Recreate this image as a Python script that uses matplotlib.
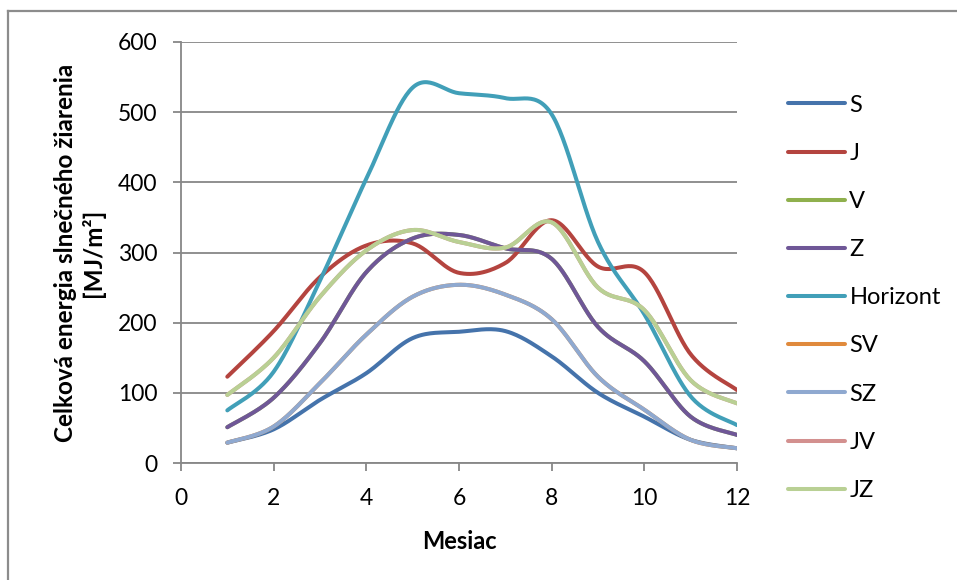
import numpy as np
import matplotlib
matplotlib.use("Agg")
import matplotlib.pyplot as plt
from matplotlib.lines import Line2D

plt.rcParams['font.family'] = ['Lato', 'DejaVu Sans']

# mesačné hodnoty [MJ/m2] pre jednotlivé orientácie plochy
mesiace = [1, 2, 3, 4, 5, 6, 7, 8, 9, 10, 11, 12]
S = [29, 48, 90, 128, 178, 187, 188, 152, 100, 66, 33, 21]
J = [123, 188, 265, 310, 313, 271, 285, 346, 280, 272, 155, 104]
V = [51, 93, 171, 272, 320, 325, 306, 291, 194, 145, 66, 40]
Z = [51, 93, 171, 272, 320, 325, 306, 291, 194, 145, 66, 40]
Horizont = [75, 130, 260, 405, 535, 527, 520, 497, 315, 212, 95, 54]
SV = [29, 52, 114, 183, 237, 254, 240, 205, 123, 76, 33, 21]
SZ = [29, 52, 114, 183, 237, 254, 240, 205, 123, 76, 33, 21]
JV = [97, 150, 237, 303, 332, 315, 307, 343, 250, 218, 118, 85]
JZ = [97, 150, 237, 303, 332, 315, 307, 343, 250, 218, 118, 85]

nazvy = ['S', 'J', 'V', 'Z', 'Horizont', 'SV', 'SZ', 'JV', 'JZ']
serie = [S, J, V, Z, Horizont, SV, SZ, JV, JZ]
farby = ['#4573ab', '#b4443f', '#8fb04d', '#6f5797', '#419fb8',
         '#e08a3c', '#8fa9d0', '#d3908f', '#b9d094']


def vyhladit(x, y, n=30):
    """ vyhladena krivka cez body (Bezier ako v Exceli) """
    x = np.asarray(x, float)
    y = np.asarray(y, float)
    px = np.concatenate([[x[0]], x, [x[-1]]])
    py = np.concatenate([[y[0]], y, [y[-1]]])
    xs, ys = [], []
    t = np.linspace(0, 1, n)
    for i in range(1, len(px) - 2):
        p0 = np.array([px[i], py[i]])
        p3 = np.array([px[i + 1], py[i + 1]])
        p1 = p0 + (np.array([px[i + 1], py[i + 1]]) - np.array([px[i - 1], py[i - 1]])) / 6
        p2 = p3 - (np.array([px[i + 2], py[i + 2]]) - np.array([px[i], py[i]])) / 6
        b = ((1 - t) ** 3)[:, None] * p0 + (3 * (1 - t) ** 2 * t)[:, None] * p1 \
            + (3 * (1 - t) * t ** 2)[:, None] * p2 + (t ** 3)[:, None] * p3
        xs.extend(b[:, 0])
        ys.extend(b[:, 1])
    return xs, ys


fig = plt.figure(figsize=(9.57, 5.8), dpi=100)
ax = fig.add_axes([0.1891, 0.2017, 0.581, 0.7259])

# ram okolo grafu (horna a lava hrana)
fig.lines.append(Line2D([8 / 957, 1.0], [1 - 11 / 580, 1 - 11 / 580], transform=fig.transFigure,
                        color='#8c8c8c', linewidth=1.6))
fig.lines.append(Line2D([8 / 957, 8 / 957], [0.0, 1 - 11 / 580], transform=fig.transFigure,
                        color='#8c8c8c', linewidth=1.6))

handles = []
for nazov, data, farba in zip(nazvy, serie, farby):
    xs, ys = vyhladit(mesiace, data)
    h, = ax.plot(xs, ys, color=farba, linewidth=2.9, solid_capstyle='round', label=nazov)
    handles.append(h)

ax.set_xlim(0, 12)
ax.set_ylim(0, 600)
ax.set_xticks(range(0, 13, 2))
ax.set_yticks(range(0, 601, 100))
ax.grid(axis='y', color='#878787', linewidth=1.3)
ax.set_axisbelow(True)
for s in ['top', 'right']:
    ax.spines[s].set_visible(False)
for s in ['left', 'bottom']:
    ax.spines[s].set_color('#878787')
    ax.spines[s].set_linewidth(1.3)
ax.tick_params(axis='both', length=6, width=1.3, color='#878787', labelsize=16.5)
ax.tick_params(axis='x', pad=12)
ax.tick_params(axis='y', pad=11)

ax.set_xlabel('Mesiac', fontsize=17, fontweight='bold', labelpad=15)
ax.set_ylabel('Celková energia slnečného žiarenia\n[MJ/m²]', fontsize=17.5,
              fontweight='bold', labelpad=9, linespacing=1.2)

fig.legend(handles=handles, loc='upper left', bbox_to_anchor=(0.8234, 0.8367),
           frameon=False, fontsize=17, handlelength=2.4, handletextpad=0.2,
           labelspacing=1.15, borderpad=0, borderaxespad=0)

plt.savefig('out.png', dpi=100)
